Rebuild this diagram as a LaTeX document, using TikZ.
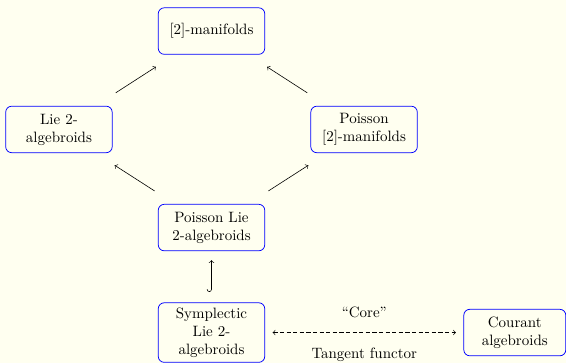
\documentclass[tikz,border=0pt]{standalone}
\usetikzlibrary{arrows}
\definecolor{pagebg}{RGB}{255,255,240}
\colorlet{boxline}{blue}

\begin{document}
\begin{tikzpicture}[x=1pt,y=1pt,
    cat/.style={draw=boxline,line width=0.5pt,rounded corners=4pt,align=center,
      minimum width=71pt,minimum height=31pt,inner sep=3.3pt},
    func/.style={->,shorten <=16pt,shorten >=15pt}]
  % Background
  \fill[pagebg] (0,0) rectangle (377.33,242);
  \useasboundingbox (0,0) rectangle (377.33,242);
  % Boxes
  \node[cat] (man) at (141,221.3) {[2]-manifolds};
  \node[cat] (lie) at (39.3,155.7) {Lie 2-\\algebroids};
  \node[cat] (pois) at (242.7,155.7) {Poisson\\{}[2]-manifolds};
  \node[cat] (plie) at (141,90.3) {Poisson Lie\\2-algebroids};
  \node[cat] (symp) at (141,20.3) {Symplectic\\Lie 2-\\algebroids};
  \node[cat,minimum width=68pt] (cour) at (343.2,20.3) {Courant\\algebroids};
  % Arrows
  \draw[func] (lie) -- (man);
  \draw[func] (pois) -- (man);
  \draw[func] (plie) -- (lie);
  \draw[func] (plie) -- (pois);
  \draw[right hook->,shorten <=7pt,shorten >=6pt] (symp) -- (plie);
  \draw[<->,dash pattern=on 2.8pt off 1.6pt,shorten <=5pt,shorten >=5pt]
    (symp) -- (cour)
    node[midway,above=6pt] (core) {``Core''}
    node[midway,below=7pt] (tang) {Tangent functor};
\end{tikzpicture}
\end{document}
